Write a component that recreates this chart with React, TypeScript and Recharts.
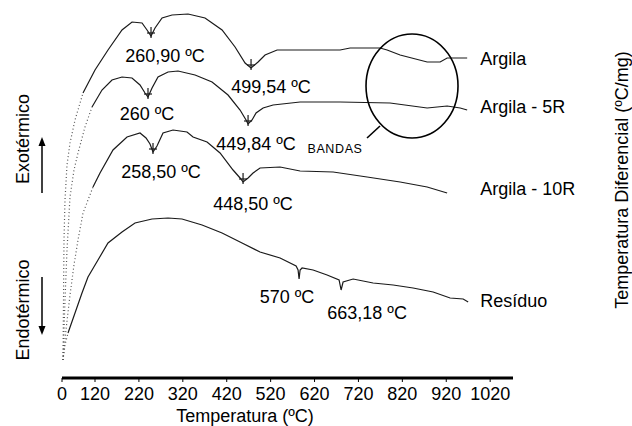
import React from "react";
import { LineChart, Line, XAxis, YAxis, ReferenceDot } from "recharts";

// ---- axis ----
const xTicks = [0, 120, 220, 320, 420, 520, 620, 720, 820, 920, 1020];
const xDomainMax = 1072;
// hand-drawn axis: the 0–120 segment is compressed relative to the rest
const xKnots = [0, 120, xDomainMax];
const xKnotFractions = [0, 33 / 451, 1];

// ---- series (t = temperature ºC, v = relative DTA signal) ----
const argilaEarly = [
  { t: 3.6, v: 18 }, { t: 5.5, v: 78 }, { t: 7.3, v: 138 }, { t: 10.9, v: 178 },
  { t: 18.2, v: 213 }, { t: 29.1, v: 235 }, { t: 47.3, v: 258 }, { t: 76.4, v: 285 },
];
const argila = [
  { t: 76.4, v: 285 }, { t: 120, v: 308 }, { t: 149.6, v: 328 }, { t: 181.5, v: 348 },
  { t: 204.3, v: 356 }, { t: 227.1, v: 355 }, { t: 238.5, v: 348 }, { t: 247.6, v: 342 },
  { t: 256.7, v: 350 }, { t: 272.7, v: 360 }, { t: 295.4, v: 363 }, { t: 331.9, v: 364 },
  { t: 370.6, v: 360 }, { t: 409.4, v: 348 }, { t: 439, v: 331 }, { t: 461.8, v: 315 },
  { t: 475.4, v: 310 }, { t: 491.4, v: 316 }, { t: 507.3, v: 323 }, { t: 534.7, v: 328 },
  { t: 603, v: 328 }, { t: 678.2, v: 328 }, { t: 701, v: 330 }, { t: 769.3, v: 330 },
  { t: 785.3, v: 328 }, { t: 814.9, v: 323 }, { t: 876.5, v: 316 }, { t: 906.1, v: 316 },
  { t: 922, v: 320 }, { t: 967.6, v: 320 },
];
const argila5rEarly = [
  { t: 3.6, v: 18 }, { t: 10.9, v: 78 }, { t: 18.2, v: 128 }, { t: 29.1, v: 181 },
  { t: 43.6, v: 208 }, { t: 58.2, v: 225 }, { t: 83.6, v: 251 }, { t: 109.1, v: 271 },
];
const argila5r = [
  { t: 109.1, v: 271 }, { t: 135.9, v: 288 }, { t: 158.7, v: 298 }, { t: 181.5, v: 301 },
  { t: 204.3, v: 300 }, { t: 222.5, v: 293 }, { t: 233.9, v: 285 }, { t: 240.7, v: 281 },
  { t: 249.9, v: 290 }, { t: 263.5, v: 301 }, { t: 286.3, v: 306 }, { t: 309.1, v: 307 },
  { t: 347.9, v: 303 }, { t: 386.6, v: 296 }, { t: 423, v: 283 }, { t: 450.4, v: 268 },
  { t: 464, v: 258 }, { t: 468.6, v: 254 }, { t: 477.7, v: 258 }, { t: 486.8, v: 265 },
  { t: 502.8, v: 270 }, { t: 525.6, v: 273 }, { t: 587.1, v: 276 }, { t: 678.2, v: 276 },
  { t: 792, v: 275 }, { t: 876.5, v: 270 }, { t: 922, v: 272 }, { t: 951.7, v: 270 },
  { t: 967.6, v: 268 },
];
const argila10rEarly = [
  { t: 3.6, v: 18 }, { t: 14.5, v: 48 }, { t: 29.1, v: 83 }, { t: 43.6, v: 113 },
  { t: 58.2, v: 138 }, { t: 76.4, v: 165 }, { t: 112.7, v: 191 },
];
const argila10r = [
  { t: 112.7, v: 191 }, { t: 131.4, v: 205 }, { t: 161, v: 228 }, { t: 192.9, v: 241 },
  { t: 222.5, v: 245 }, { t: 236.2, v: 240 }, { t: 245.3, v: 234 }, { t: 252.1, v: 226 },
  { t: 261.2, v: 232 }, { t: 274.9, v: 245 }, { t: 297.7, v: 248 }, { t: 329.6, v: 246 },
  { t: 343.3, v: 241 }, { t: 375.2, v: 236 }, { t: 404.8, v: 225 }, { t: 434.4, v: 208 },
  { t: 450.4, v: 200 }, { t: 457.2, v: 196 }, { t: 468.6, v: 200 }, { t: 480, v: 205 },
  { t: 495.9, v: 210 }, { t: 541.5, v: 211 }, { t: 587.1, v: 207 }, { t: 662.3, v: 206 },
  { t: 739.7, v: 201 }, { t: 814.9, v: 196 }, { t: 876.5, v: 191 }, { t: 922, v: 185 },
];
const residuoEarly = [
  { t: 3.6, v: 18 }, { t: 10.9, v: 33 }, { t: 21.8, v: 45 },
];
const residuo = [
  { t: 21.8, v: 45 }, { t: 47.3, v: 65 }, { t: 72.7, v: 85 }, { t: 94.5, v: 101 },
  { t: 126.8, v: 118 }, { t: 149.6, v: 135 }, { t: 181.5, v: 146 }, { t: 211.1, v: 155 },
  { t: 249.9, v: 159 }, { t: 286.3, v: 160 }, { t: 318.2, v: 159 }, { t: 363.8, v: 153 },
  { t: 409.4, v: 145 }, { t: 454.9, v: 135 }, { t: 495.9, v: 126 }, { t: 541.5, v: 120 },
  { t: 578, v: 112 }, { t: 582.5, v: 108 }, { t: 584.8, v: 99 }, { t: 587.1, v: 108 },
  { t: 591.6, v: 110 }, { t: 616.7, v: 108 }, { t: 648.6, v: 103 }, { t: 675.9, v: 98 },
  { t: 680.5, v: 88 }, { t: 685, v: 96 }, { t: 707.9, v: 99 }, { t: 753.4, v: 95 },
  { t: 799, v: 93 }, { t: 844.5, v: 90 }, { t: 890.1, v: 86 }, { t: 928.8, v: 80 },
  { t: 958.5, v: 79 }, { t: 969.9, v: 76 },
];

// ---- annotations ----
const peakTexts = ["260,90 ºC", "499,54 ºC", "260 ºC", "449,84 ºC", "258,50 ºC", "448,50 ºC", "570 ºC", "663,18 ºC"];
const peakTemps = [247.6, 475.4, 240.7, 468.6, 252.1, 457.2, 584.8, 680.5];
const peakValues = [342, 310, 281, 254, 226, 196, 99, 88];
const peakCross = [true, true, true, true, true, true, false, false];
const peakLabelOffsets = [[14, 26], [20, 25], [-1, 23], [8, 26], [8, 26], [10, 28], [-12, 24], [26, 29]];

const seriesNames = ["Argila", "Argila - 5R", "Argila - 10R", "Resíduo"];
const seriesLabelOffsets = [[13, 7], [13, 3], [33, 2], [12, 5]];
const bandasCenter = { t: 842, v: 292 };

const FONT = "'Liberation Sans', Arial, Helvetica, sans-serif";
const INK = "#1a1a1a";

function makeWarpScale(): any {
  let dom = [0, xDomainMax];
  let rng = [0, 1];
  const frac = (x: number) => {
    let i = 0;
    while (i < xKnots.length - 2 && x > xKnots[i + 1]) i++;
    const u = (x - xKnots[i]) / (xKnots[i + 1] - xKnots[i]);
    return xKnotFractions[i] + u * (xKnotFractions[i + 1] - xKnotFractions[i]);
  };
  const unfrac = (f: number) => {
    let i = 0;
    while (i < xKnotFractions.length - 2 && f > xKnotFractions[i + 1]) i++;
    const u = (f - xKnotFractions[i]) / (xKnotFractions[i + 1] - xKnotFractions[i]);
    return xKnots[i] + u * (xKnots[i + 1] - xKnots[i]);
  };
  const scale: any = (x: number) => rng[0] + (rng[1] - rng[0]) * frac(Number(x));
  scale.domain = (d?: number[]) => {
    if (d === undefined) return dom.slice();
    dom = d.slice();
    return scale;
  };
  scale.range = (r?: number[]) => {
    if (r === undefined) return rng.slice();
    rng = r.slice();
    return scale;
  };
  scale.invert = (p: number) => unfrac((p - rng[0]) / (rng[1] - rng[0]));
  scale.ticks = () => xTicks.slice();
  scale.tickFormat = () => (v: number) => String(v);
  scale.nice = () => scale;
  scale.clamp = () => scale;
  scale.copy = () => {
    const s = makeWarpScale();
    s.domain(dom);
    s.range(rng);
    return s;
  };
  return scale;
}

const warpScale = makeWarpScale();

const Cross = (props: any) => {
  const { cx, cy } = props;
  return (
    <g stroke={INK} strokeWidth={1.2}>
      <line x1={cx} y1={cy - 9} x2={cx} y2={cy + 2} />
      <line x1={cx - 4} y1={cy - 3} x2={cx + 4} y2={cy - 3} />
    </g>
  );
};

export default function App() {
  const mainLine = { type: "linear" as const, dataKey: "v", stroke: INK, strokeWidth: 1.2, dot: false, isAnimationActive: false };
  const earlyLine = { type: "linear" as const, dataKey: "v", stroke: "#555", strokeWidth: 1.2, strokeDasharray: "1 2.5", dot: false, isAnimationActive: false };
  const ends = [argila, argila5r, argila10r, residuo].map((s) => s[s.length - 1]);
  return (
    <div style={{ position: "absolute", left: 0, top: 0, background: "#fff" }}>
      <LineChart width={632} height={426} margin={{ top: 10, right: 119, bottom: 0, left: 62 }}>
        <XAxis
          dataKey="t"
          type="number"
          scale={warpScale}
          domain={[0, xDomainMax]}
          ticks={xTicks}
          interval={0}
          allowDataOverflow
          height={48}
          axisLine={{ stroke: "#000", strokeWidth: 3 }}
          tickLine={{ stroke: "#000", strokeWidth: 1 }}
          tickSize={4}
          tickMargin={5}
          tick={{ fill: "#000", fontSize: 18, fontFamily: FONT }}
        />
        <YAxis type="number" domain={[0, 368]} hide width={0} />
        <Line {...earlyLine} data={argilaEarly} />
        <Line {...mainLine} data={argila} />
        <Line {...earlyLine} data={argila5rEarly} />
        <Line {...mainLine} data={argila5r} />
        <Line {...earlyLine} data={argila10rEarly} />
        <Line {...mainLine} data={argila10r} />
        <Line {...earlyLine} data={residuoEarly} />
        <Line {...mainLine} data={residuo} />

        {peakTexts.map((txt, i) => (
          <ReferenceDot
            key={"pk" + i}
            x={peakTemps[i]}
            y={peakValues[i]}
            r={0}
            shape={(p: any) => (
              <g>
                {peakCross[i] ? <Cross cx={p.cx} cy={p.cy} /> : null}
                <text
                  x={p.cx + peakLabelOffsets[i][0]}
                  y={p.cy + peakLabelOffsets[i][1]}
                  textAnchor="middle"
                  fontSize={18}
                  fontFamily={FONT}
                  fill="#000"
                >
                  {txt}
                </text>
              </g>
            )}
          />
        ))}

        {seriesNames.map((name, i) => (
          <ReferenceDot
            key={"sn" + i}
            x={ends[i].t}
            y={ends[i].v}
            r={0}
            shape={(p: any) => (
              <text
                x={p.cx + seriesLabelOffsets[i][0]}
                y={p.cy + seriesLabelOffsets[i][1]}
                fontSize={18}
                fontFamily={FONT}
                fill="#000"
              >
                {name}
              </text>
            )}
          />
        ))}

        <ReferenceDot
          x={bandasCenter.t}
          y={bandasCenter.v}
          r={0}
          shape={(p: any) => (
            <g>
              <ellipse cx={p.cx} cy={p.cy} rx={46} ry={52} fill="none" stroke="#000" strokeWidth={1.6} />
              <line x1={p.cx - 32} y1={p.cy + 40} x2={p.cx - 45} y2={p.cy + 52} stroke="#000" strokeWidth={1.6} />
              <text x={p.cx - 77} y={p.cy + 67} textAnchor="middle" fontSize={12.5} fontFamily={FONT} fill="#000" letterSpacing={0.6}>
                BANDAS
              </text>
            </g>
          )}
        />

        <g fontFamily={FONT} fontSize={18} fill="#000">
          <text x={29} y={139} textAnchor="middle" transform="rotate(-90 29 139)">Exotérmico</text>
          <text x={29} y={310} textAnchor="middle" transform="rotate(-90 29 310)">Endotérmico</text>
          <text x={628} y={180} textAnchor="middle" transform="rotate(-90 628 180)">Temperatura Diferencial (ºC/mg)</text>
          <text x={245} y={422} textAnchor="middle">Temperatura (ºC)</text>
        </g>
        <g stroke="#000" strokeWidth={1.5} fill="#000">
          <line x1={42} y1={193} x2={42} y2={144} />
          <polygon points="42,137 38.5,146 45.5,146" stroke="none" />
          <line x1={42} y1={277} x2={42} y2={328} />
          <polygon points="42,335 38.5,326 45.5,326" stroke="none" />
        </g>
      </LineChart>
    </div>
  );
}
